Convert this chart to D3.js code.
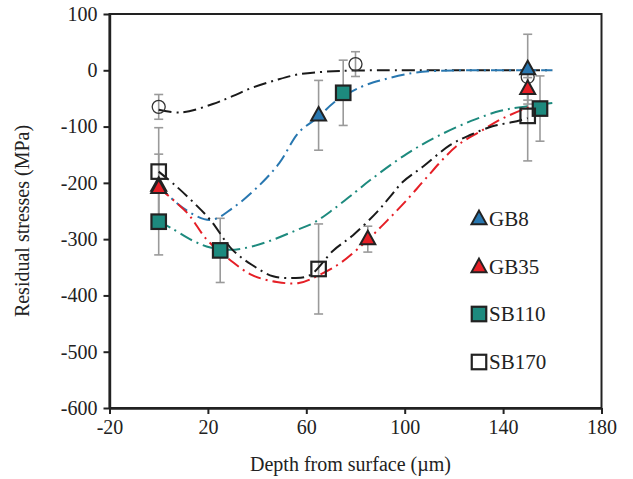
<!DOCTYPE html>
<html><head><meta charset="utf-8">
<script src="https://cdn.jsdelivr.net/npm/d3@7"></script>
<style>body{margin:0;background:#fff}svg{display:block}text{font-family:"Liberation Serif","Times New Roman",serif;fill:#222}</style>
</head><body><svg id="c" width="633" height="479"></svg>
<script>
// ---- data ----
const xTicks = [-20, 20, 60, 100, 140, 180];
const yTicks = [100, 0, -100, -200, -300, -400, -500, -600];
const seriesNames = ["GB8", "GB35", "SB110", "SB170"];
const seriesColors = ["#2877b0", "#e51f26", "#1d8a7e", "#ffffff"];
const seriesShapes = ["triangle", "triangle", "square", "openSquare"];

// measured points [depth, stress, error]
const gb8Pts   = [[0, -205, 0], [65, -80, 62], [150, 2, 62]];
const gb35Pts  = [[0, -209, 60], [85, -300, 23], [150, -33, 20]];
const sb110Pts = [[0, -269, 59], [25, -320, 57], [75, -40, 58], [155, -68, 58]];
const sb170Pts = [[0, -180, 78], [65, -353, 80], [150, -81, 80]];
const refPts   = [[0, -65, 22], [80, 11, 22], [150, -12, 0]];

// fitted curves [depth, stress]
const refCurve   = [[0,-70],[9,-75],[22,-60],[30,-46],[38,-31],[48,-17],[57,-7],[66,-3],[74,-1],[89,0],[120,0],[160,0]];
const gb8Curve   = [[0,-205],[10,-245],[21,-266],[30,-245],[41,-204],[49,-165],[57,-110],[65,-83],[71,-58],[82,-30],[91,-17],[103,-5],[113,-1],[125,0],[160,0]];
const gb35Curve  = [[0,-209],[11.5,-253],[19.6,-301],[29,-337],[38,-364],[48,-376],[57,-378],[65.6,-363],[74,-342],[85,-301],[94,-262],[102,-225],[108,-195],[121,-135],[131,-108],[140,-85],[152,-63]];
const sb110Curve = [[0,-269],[5,-280],[14,-303],[21,-315],[29,-319],[37,-314],[46.5,-301],[56,-284],[63,-271],[71,-247],[80,-216],[86,-195],[101,-148],[113,-118],[127,-90],[139,-72],[148,-65],[160,-58]];
const sb170Curve = [[0,-180],[6.6,-204],[13.5,-232],[21,-266],[30,-319],[38,-346],[46.5,-366],[54.6,-369],[61.5,-364],[71,-320],[79,-293],[88.7,-252],[94,-225],[99.3,-198],[107.5,-171],[118.4,-133],[126.6,-115],[136,-99],[144,-92],[150,-85]];

// ---- chart ----
const svg = d3.select("#c");
const L = 109.5, R = 601.5, T = 14, B = 408;
const x = d3.scaleLinear().domain([-20, 180]).range([L, R]);
const y = d3.scaleLinear().domain([-600, 100]).range([B, T]);
const ink = "#222";
const fmt = d => String(d);

// frame
svg.append("rect").attr("x", L).attr("y", T).attr("width", R - L).attr("height", B - T)
  .attr("fill", "none").attr("stroke", ink).attr("stroke-width", 2);

const ax = svg.append("g").attr("transform", `translate(0,${B})`)
  .call(d3.axisBottom(x).tickValues(xTicks).tickFormat(fmt).tickSize(6).tickSizeOuter(0).tickPadding(6));
const ay = svg.append("g").attr("transform", `translate(${L},0)`)
  .call(d3.axisLeft(y).tickValues(yTicks).tickFormat(fmt).tickSize(6).tickSizeOuter(0).tickPadding(6));
[ax, ay].forEach(g => {
  g.select(".domain").attr("stroke", ink).attr("stroke-width", 2.4);
  g.selectAll(".tick line").attr("stroke", ink).attr("stroke-width", 2);
  g.selectAll(".tick text").attr("font-size", 20).attr("fill", ink)
    .style("font-family", '"Liberation Serif","Times New Roman",serif');
});

svg.append("text").attr("x", (L + R) / 2 - 5).attr("y", 471).attr("text-anchor", "middle")
  .attr("font-size", 20).text("Depth from surface (µm)");
svg.append("text").attr("transform", `translate(29,${(T + B) / 2 + 10}) rotate(-90)`)
  .attr("text-anchor", "middle").attr("font-size", 20).text("Residual stresses (MPa)");

// error bars
const allPts = [refPts, gb8Pts, gb35Pts, sb110Pts, sb170Pts].flat();
const eb = svg.append("g").attr("stroke", "#9a9a9a").attr("stroke-width", 1.6);
allPts.filter(p => p[2] > 0).forEach(p => {
  const cx = x(p[0]), y1 = y(p[1] + p[2]), y2 = y(p[1] - p[2]);
  eb.append("line").attr("x1", cx).attr("x2", cx).attr("y1", y1).attr("y2", y2);
  eb.append("line").attr("x1", cx - 4.5).attr("x2", cx + 4.5).attr("y1", y1).attr("y2", y1);
  eb.append("line").attr("x1", cx - 4.5).attr("x2", cx + 4.5).attr("y1", y2).attr("y2", y2);
});

// curves
const line = d3.line().x(d => x(d[0])).y(d => y(d[1])).curve(d3.curveCatmullRom.alpha(0.5));
const curves = [
  [refCurve, "#1a1a1a"], [gb8Curve, "#2877b0"], [sb110Curve, "#1d8a7e"],
  [gb35Curve, "#e51f26"], [sb170Curve, "#1a1a1a"]
];
curves.forEach(([c, col]) => {
  svg.append("path").attr("d", line(c)).attr("fill", "none").attr("stroke", col)
    .attr("stroke-width", 2).attr("stroke-dasharray", "13,5,2,5");
});

// markers
function marker(g, shape, cx, cy, fill) {
  if (shape === "triangle") {
    const w = 15, h = 13.5;
    g.append("path").attr("d", `M${cx},${cy - h * 0.62}L${cx + w / 2},${cy + h * 0.38}L${cx - w / 2},${cy + h * 0.38}Z`)
      .attr("fill", fill).attr("stroke", ink).attr("stroke-width", 2).attr("stroke-linejoin", "miter");
  } else if (shape === "square" || shape === "openSquare") {
    const s = 14.5;
    g.append("rect").attr("x", cx - s / 2).attr("y", cy - s / 2).attr("width", s).attr("height", s)
      .attr("fill", shape === "square" ? fill : "none").attr("stroke", ink).attr("stroke-width", 2.2);
  } else {
    g.append("circle").attr("cx", cx).attr("cy", cy).attr("r", 6.5)
      .attr("fill", "none").attr("stroke", "#333").attr("stroke-width", 1.3);
  }
}
const mk = svg.append("g");
refPts.forEach(p => marker(mk, "circle", x(p[0]), y(p[1])));
const order = [gb8Pts, gb35Pts, sb110Pts, sb170Pts];
[0, 2, 3, 1].forEach(i => {
  order[i].forEach(p => marker(mk, seriesShapes[i], x(p[0]), y(p[1]), seriesColors[i]));
});

// legend
const lg = svg.append("g");
const legY = [219, 267, 314, 362];
seriesNames.forEach((n, i) => {
  marker(lg, seriesShapes[i], 479, legY[i], seriesColors[i]);
  lg.append("text").attr("x", 489).attr("y", legY[i] + 7).attr("font-size", 21).text(n);
});
</script></body></html>
